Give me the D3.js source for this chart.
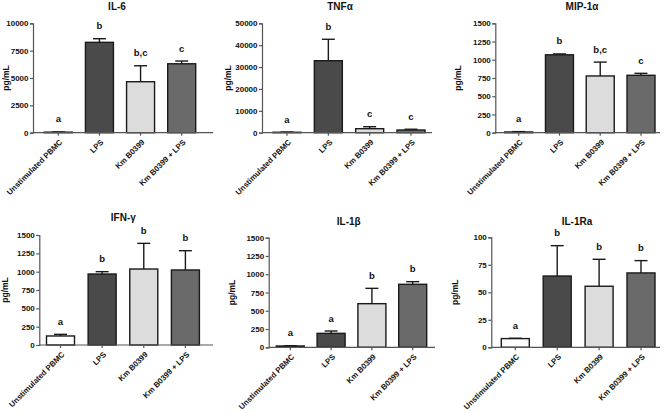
<!DOCTYPE html>
<html><head><meta charset="utf-8">
<script src="https://cdn.jsdelivr.net/npm/d3@7/dist/d3.min.js"></script>
<style>
html,body{margin:0;padding:0;background:#fff;}
svg{display:block;font-family:"Liberation Sans",Arial,sans-serif;font-weight:bold;}
</style></head>
<body><svg id="c" width="664" height="413"></svg>
<script>
// ---- data ----
const categories = ["Unstimulated PBMC", "LPS", "Km B0399", "Km B0399 + LPS"];
const titles = ["IL-6", "TNF\u03b1", "MIP-1\u03b1", "IFN-\u03b3", "IL-1\u03b2", "IL-1Ra"];
const il6 = [50, 8260, 4660, 6300];        const il6Err = [20, 330, 1460, 250];
const tnf = [200, 32900, 1830, 1230];      const tnfErr = [100, 9800, 900, 350];
const mip = [10, 1068, 778, 787];          const mipErr = [5, 12, 190, 27];
const ifn = [123, 968, 1036, 1023];        const ifnErr = [22, 32, 350, 263];
const il1b = [18, 191, 597, 862];          const il1bErr = [4, 32, 210, 36];
const il1ra = [7.9, 64.8, 55.5, 67.6];     const il1raErr = [0.3, 27.6, 24.5, 11.2];
const il6Letters = ["a", "b", "b,c", "c"];
const tnfLetters = ["a", "b", "c", "c"];
const mipLetters = ["a", "b", "b,c", "c"];
const ifnLetters = ["a", "b", "b", "b"];
const il1bLetters = ["a", "a", "b", "b"];
const il1raLetters = ["a", "b", "b", "b"];
const il6Ticks = [0, 2500, 5000, 7500, 10000];
const tnfTicks = [0, 10000, 20000, 30000, 40000, 50000];
const pgTicks = [0, 250, 500, 750, 1000, 1250, 1500];
const raTicks = [0, 25, 50, 75, 100];
const yLabel = "pg/mL";

const series = [
  {v: il6, e: il6Err, l: il6Letters, t: il6Ticks},
  {v: tnf, e: tnfErr, l: tnfLetters, t: tnfTicks},
  {v: mip, e: mipErr, l: mipLetters, t: pgTicks},
  {v: ifn, e: ifnErr, l: ifnLetters, t: pgTicks},
  {v: il1b, e: il1bErr, l: il1bLetters, t: pgTicks},
  {v: il1ra, e: il1raErr, l: il1raLetters, t: raTicks}
];

// ---- layout (pixel geometry, separate from data) ----
const layout = [
  {x0: 33, x1: 213, yT: 23.3, yB: 132.7, c0: 58.3, c3: 181.7, tx: 117, ty: 9.5, lx: 6},
  {x0: 262, x1: 432, yT: 23.3, yB: 132.7, c0: 287, c3: 411, tx: 340, ty: 9.5, lx: 228},
  {x0: 495.3, x1: 660, yT: 23.3, yB: 132.7, c0: 518.7, c3: 641, tx: 582, ty: 9.5, lx: 458.5},
  {x0: 39.3, x1: 213, yT: 235, yB: 345, c0: 60.5, c3: 185.4, tx: 123.3, ty: 221, lx: 5.5},
  {x0: 268.7, x1: 435, yT: 237.7, yB: 347.3, c0: 290.3, c3: 412.7, tx: 348.7, ty: 225, lx: 232},
  {x0: 491.3, x1: 660, yT: 237.3, yB: 347.3, c0: 515.3, c3: 641, tx: 577, ty: 225, lx: 455.3}
];
const fills = ["#ffffff", "#4a4a4a", "#dcdcdc", "#6a6a6a"];
const barW = 28, capW = 13;

const svg = d3.select("#c");

series.forEach((s, i) => {
  const L = layout[i];
  const g = svg.append("g");
  const y = d3.scaleLinear().domain([0, d3.max(s.t)]).range([L.yB, L.yT]);
  const x = d3.scalePoint().domain(categories).range([L.c0, L.c3]);
  const col = d3.scaleOrdinal().domain(categories).range(fills);
  const rows = categories.map((c, k) => ({c, v: s.v[k], e: s.e[k], l: s.l[k]}));

  // bars
  g.selectAll("rect.bar").data(rows).join("rect")
    .attr("x", d => x(d.c) - barW / 2).attr("width", barW)
    .attr("y", d => y(d.v)).attr("height", d => L.yB - y(d.v))
    .attr("fill", d => col(d.c)).attr("stroke", "#1a1a1a").attr("stroke-width", 1.4);

  // error bars
  g.selectAll("line.err").data(rows).join("line")
    .attr("x1", d => x(d.c)).attr("x2", d => x(d.c))
    .attr("y1", d => y(d.v)).attr("y2", d => y(d.v + d.e))
    .attr("stroke", "#1a1a1a").attr("stroke-width", 1.4);
  g.selectAll("line.cap").data(rows).join("line")
    .attr("x1", d => x(d.c) - capW / 2).attr("x2", d => x(d.c) + capW / 2)
    .attr("y1", d => y(d.v + d.e)).attr("y2", d => y(d.v + d.e))
    .attr("stroke", "#1a1a1a").attr("stroke-width", 1.4);

  // letters
  g.selectAll("text.let").data(rows).join("text")
    .attr("x", d => x(d.c)).attr("y", d => y(d.v + d.e) - 9.5)
    .attr("text-anchor", "middle").attr("font-size", 9.5).attr("fill", "#111")
    .text(d => d.l);

  // y axis
  const ya = g.append("g").attr("transform", `translate(${L.x0},0)`)
    .call(d3.axisLeft(y).tickValues(s.t).tickSize(3).tickPadding(1.5).tickFormat(d3.format("d")));
  ya.select(".domain").attr("stroke", "#555").attr("stroke-width", 1.2);
  ya.selectAll(".tick line").attr("stroke", "#555").attr("stroke-width", 1.2);
  ya.selectAll(".tick text").attr("font-size", 8).attr("font-family", "Liberation Sans, Arial, sans-serif")
    .attr("font-weight", "bold").attr("fill", "#111");

  // x axis
  g.append("line").attr("x1", L.x0).attr("x2", L.x1).attr("y1", L.yB).attr("y2", L.yB)
    .attr("stroke", "#555").attr("stroke-width", 1.2);
  g.selectAll("line.xt").data(categories).join("line")
    .attr("x1", d => x(d)).attr("x2", d => x(d)).attr("y1", L.yB).attr("y2", L.yB + 3)
    .attr("stroke", "#555").attr("stroke-width", 1.2);
  g.selectAll("text.xl").data(categories).join("text")
    .attr("transform", d => `translate(${x(d) + 4.5},${L.yB + 10}) rotate(-45)`)
    .attr("text-anchor", "end")
    .attr("font-size", 7.8).attr("fill", "#111").text(d => d);

  // title
  g.append("text").attr("x", L.tx).attr("y", L.ty).attr("text-anchor", "middle")
    .attr("font-size", 10).attr("fill", "#111").text(titles[i]);

  // y label
  g.append("text").attr("transform", `translate(${L.lx},${(L.yT + L.yB) / 2}) rotate(-90)`)
    .attr("text-anchor", "middle").attr("dy", "0.35em")
    .attr("font-size", 8.5).attr("fill", "#111").text(yLabel);
});
</script>
</body></html>
